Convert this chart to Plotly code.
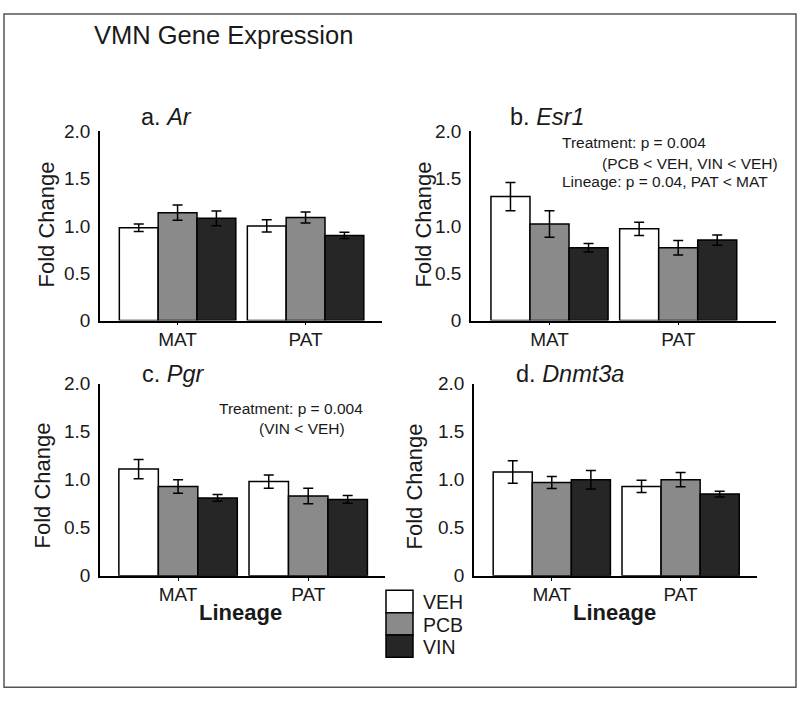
import plotly.graph_objects as go

# ---------------- data ----------------
lineages = ["MAT", "PAT"]
treatments = ["VEH", "PCB", "VIN"]
bar_colors = ["#ffffff", "#8a8a8a", "#262626"]

panel_titles = ["a. <i>Ar</i>", "b. <i>Esr1</i>", "c. <i>Pgr</i>", "d. <i>Dnmt3a</i>"]
y_tick_vals = [0, 0.5, 1.0, 1.5, 2.0]
y_tick_text = ["0", "0.5", "1.0", "1.5", "2.0"]

# means [VEH, PCB, VIN], each [MAT, PAT]
ar_mean = [[0.98, 1.00], [1.14, 1.09], [1.08, 0.90]]
ar_sem = [[0.04, 0.065], [0.08, 0.058], [0.077, 0.034]]

esr1_mean = [[1.31, 0.97], [1.02, 0.77], [0.77, 0.85]]
esr1_sem = [[0.15, 0.07], [0.14, 0.077], [0.045, 0.055]]

pgr_mean = [[1.11, 0.98], [0.93, 0.83], [0.81, 0.795]]
pgr_sem = [[0.10, 0.07], [0.07, 0.08], [0.035, 0.04]]

dnmt3a_mean = [[1.08, 0.93], [0.97, 1.00], [1.00, 0.85]]
dnmt3a_sem = [[0.118, 0.064], [0.062, 0.074], [0.096, 0.03]]

esr1_stats = ["Treatment: p = 0.004", "(PCB < VEH, VIN < VEH)", "Lineage: p = 0.04, PAT < MAT"]
pgr_stats = ["Treatment: p = 0.004", "(VIN < VEH)"]

main_title = "VMN Gene Expression"
y_title = "Fold Change"
x_title = "Lineage"

# ---------------- layout helpers ----------------
W, H = 800, 710
FONT = "Liberation Sans, Arial, Helvetica, sans-serif"
TXT = "#1a1a1a"


def px(x):
    return x / W


def py(y):
    return 1 - y / H


panels = [
    dict(mean=ar_mean, sem=ar_sem, xd=(100, 382), yd=(320, 125), xr=(-0.606, 1.597)),
    dict(mean=esr1_mean, sem=esr1_sem, xd=(471, 776), yd=(320, 125), xr=(-0.61, 1.76)),
    dict(mean=pgr_mean, sem=pgr_sem, xd=(100, 385), yd=(583, 385), xr=(-0.6, 1.59)),
    dict(mean=dnmt3a_mean, sem=dnmt3a_sem, xd=(474, 757), yd=(583, 385), xr=(-0.604, 1.593)),
]

fig = go.Figure()
layout = dict(
    width=W, height=H,
    margin=dict(l=0, r=0, t=0, b=0),
    paper_bgcolor="white", plot_bgcolor="white",
    barmode="group", bargap=0.09, bargroupgap=0,
    showlegend=False,
    font=dict(family=FONT, color=TXT),
)

for i, p in enumerate(panels):
    sfx = "" if i == 0 else str(i + 1)
    for t, name in enumerate(treatments):
        fig.add_trace(go.Bar(
            x=lineages, y=p["mean"][t], name=name,
            marker=dict(color=bar_colors[t], line=dict(color="black", width=1.5)),
            error_y=dict(type="data", array=p["sem"][t], color="black", thickness=1.5, width=5),
            xaxis="x" + sfx, yaxis="y" + sfx, showlegend=False,
        ))
    layout["xaxis" + sfx] = dict(
        domain=[px(p["xd"][0]), px(p["xd"][1])], anchor="y" + sfx,
        type="category", range=list(p["xr"]),
        showline=True, linecolor="black", linewidth=1.5,
        ticks="outside", ticklen=3, tickcolor="black", tickwidth=1,
        ticklabelstandoff=-2,
        tickfont=dict(size=19, family=FONT, color=TXT),
        showgrid=False, zeroline=False, fixedrange=True,
    )
    layout["yaxis" + sfx] = dict(
        domain=[py(p["yd"][0]), py(p["yd"][1])], anchor="x" + sfx,
        range=[0, 2.0], tickvals=y_tick_vals, ticktext=y_tick_text,
        showline=True, linecolor="black", linewidth=1.5, ticks="",
        ticklabelstandoff=4,
        tickfont=dict(size=19, family=FONT, color=TXT),
        showgrid=False, zeroline=False, fixedrange=True,
    )

annotations = []


def ann(text, x, y, size, xanchor="left", angle=0, bold=False):
    annotations.append(dict(
        text=("<b>%s</b>" % text) if bold else text,
        x=px(x), y=py(y), xref="paper", yref="paper",
        xanchor=xanchor, yanchor="middle", showarrow=False, textangle=angle,
        font=dict(size=size, family=FONT, color=TXT),
    ))


ann(main_title, 92, 26, 25.5)
title_pos = [(139, 110), (508, 110), (140, 375), (514, 375)]
for (x, y), t in zip(title_pos, panel_titles):
    ann(t, x, y, 23.5)

yt_pos = [(46, 221), (423, 221), (43, 490), (414, 491)]
for (x, y) in yt_pos:
    ann(y_title, x, y, 22, xanchor="center", angle=-90)

ann(x_title, 240, 621, 22, xanchor="center", bold=True)
ann(x_title, 614, 621, 22, xanchor="center", bold=True)

ann(esr1_stats[0], 560, 137, 15.5)
ann(esr1_stats[1], 600, 158, 15.5)
ann(esr1_stats[2], 560, 177, 15.5)
ann(pgr_stats[0], 217, 411, 15.5)
ann(pgr_stats[1], 257, 431, 15.5)

shapes = [dict(type="rect", xref="paper", yref="paper",
               x0=px(4), x1=px(796), y0=py(698), y1=py(4),
               line=dict(color="#555555", width=1.5), fillcolor="rgba(0,0,0,0)")]

leg_top, leg_h = 598, 23
for t, name in enumerate(treatments):
    y0 = leg_top + t * leg_h
    shapes.append(dict(type="rect", xref="paper", yref="paper",
                       x0=px(386), x1=px(413), y0=py(y0 + leg_h), y1=py(y0),
                       fillcolor=bar_colors[t], line=dict(color="black", width=1.5)))
    ann(name, 421, y0 + leg_h / 2 + 1, 19.5)

layout["annotations"] = annotations
layout["shapes"] = shapes
fig.update_layout(**layout)

# remove the default page margin so the figure sits at the window's top-left corner
fig.write_html("out.html", config={"displayModeBar": False},
               post_script="document.body.style.margin='0px';")
